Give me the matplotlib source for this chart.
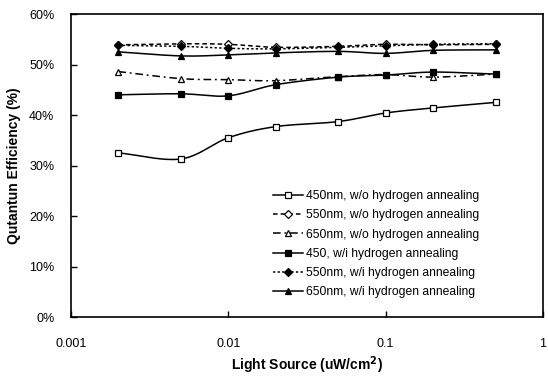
import numpy as np
import matplotlib
matplotlib.use("Agg")
import matplotlib.pyplot as plt
from matplotlib.ticker import FuncFormatter, FixedLocator, NullLocator

plt.rcParams['font.family'] = ['Liberation Sans', 'DejaVu Sans']

light = [0.002, 0.005, 0.01, 0.02, 0.05, 0.1, 0.2, 0.5]
qe_450_wo = [32.5, 31.3, 35.5, 37.7, 38.7, 40.4, 41.4, 42.5]
qe_550_wo = [53.9, 54.1, 54.0, 53.4, 53.6, 54.0, 53.9, 54.0]
qe_650_wo = [48.6, 47.2, 47.0, 46.8, 47.6, 48.0, 47.5, 48.1]
qe_450_wi = [44.0, 44.2, 43.8, 46.0, 47.5, 47.9, 48.5, 48.1]
qe_550_wi = [53.8, 53.6, 53.2, 53.1, 53.4, 53.7, 54.0, 54.1]
qe_650_wi = [52.5, 51.7, 51.9, 52.3, 52.6, 52.2, 52.8, 52.9]

labels = ["450nm, w/o hydrogen annealing",
          "550nm, w/o hydrogen annealing",
          "650nm, w/o hydrogen annealing",
          "450, w/i hydrogen annealing",
          "550nm, w/i hydrogen annealing",
          "650nm, w/i hydrogen annealing"]
x_ticks = [0.001, 0.01, 0.1, 1]
y_ticks = [0, 10, 20, 30, 40, 50, 60]


def smooth(x, y, n=20):
    """Catmull-Rom curve through the points in log-x space (Excel-like smoothed line)."""
    lx = np.log10(np.asarray(x, float))
    y = np.asarray(y, float)
    P = np.column_stack([lx, y])
    P = np.vstack([P[0] - (P[1] - P[0]), P, P[-1] + (P[-1] - P[-2])])
    out = []
    for i in range(1, len(P) - 2):
        p0, p1, p2, p3 = P[i - 1], P[i], P[i + 1], P[i + 2]
        t = np.linspace(0, 1, n, endpoint=False)[:, None]
        pts = 0.5 * ((2 * p1) + (-p0 + p2) * t + (2 * p0 - 5 * p1 + 4 * p2 - p3) * t ** 2
                     + (-p0 + 3 * p1 - 3 * p2 + p3) * t ** 3)
        out.append(pts)
    out.append(P[-2][None, :])
    out = np.vstack(out)
    return 10 ** out[:, 0], out[:, 1]


fig = plt.figure(figsize=(5.48, 3.79), dpi=100)
ax = fig.add_axes([71 / 548, 1 - 317 / 379, (543 - 71) / 548, (317 - 14) / 379])

series = [
    (qe_450_wo, dict(ls='-', marker='s', mfc='white', ms=5)),
    (qe_550_wo, dict(ls=(0, (3, 2)), marker='D', mfc='white', ms=4)),
    (qe_650_wo, dict(ls=(0, (5, 2.5, 1.2, 2.5)), marker='^', mfc='white', ms=5)),
    (qe_450_wi, dict(ls='-', marker='s', mfc='black', ms=5)),
    (qe_550_wi, dict(ls=(0, (1.5, 1.5)), marker='D', mfc='black', ms=4)),
    (qe_650_wi, dict(ls='-', marker='^', mfc='black', ms=5)),
]
handles = []
for (vals, st), lab in zip(series, labels):
    sx, sy = smooth(light, vals)
    ax.plot(sx, sy, color='black', lw=1.1, ls=st['ls'])
    ax.plot(light, vals, ls='none', marker=st['marker'], mfc=st['mfc'], mec='black',
            ms=st['ms'], mew=0.9)
    h, = ax.plot([], [], color='black', lw=1.1, ls=st['ls'], marker=st['marker'],
                 mfc=st['mfc'], mec='black', ms=st['ms'], mew=0.9, label=lab)
    handles.append(h)

ax.set_xscale('log')
ax.set_xlim(0.001, 1)
ax.set_ylim(0, 60)
ax.xaxis.set_major_locator(FixedLocator(x_ticks))
ax.xaxis.set_minor_locator(NullLocator())
ax.xaxis.set_major_formatter(FuncFormatter(lambda v, p: f"{v:g}"))
ax.yaxis.set_major_locator(FixedLocator(y_ticks))
ax.yaxis.set_major_formatter(FuncFormatter(lambda v, p: f"{v:.0f}%"))
ax.tick_params(axis='both', direction='in', length=4, width=1, labelsize=9, color='black')
ax.tick_params(axis='x', pad=15)
ax.tick_params(axis='y', pad=12)
for s in ax.spines.values():
    s.set_linewidth(1.2)

ax.set_xlabel("Light Source (uW/cm$^\\mathbf{2}$)", fontsize=10, fontweight='bold', labelpad=3)
ax.set_ylabel("Qutantun Efficiency (%)", fontsize=10, fontweight='bold', labelpad=6)

fig.legend(handles=handles, loc='upper left', bbox_to_anchor=(273 / 548, 1 - 190 / 379),
           frameon=False, fontsize=8.75, handlelength=2.5, handletextpad=0.2,
           labelspacing=0.6, borderpad=0, borderaxespad=0)

fig.savefig('out.png', dpi=100)
